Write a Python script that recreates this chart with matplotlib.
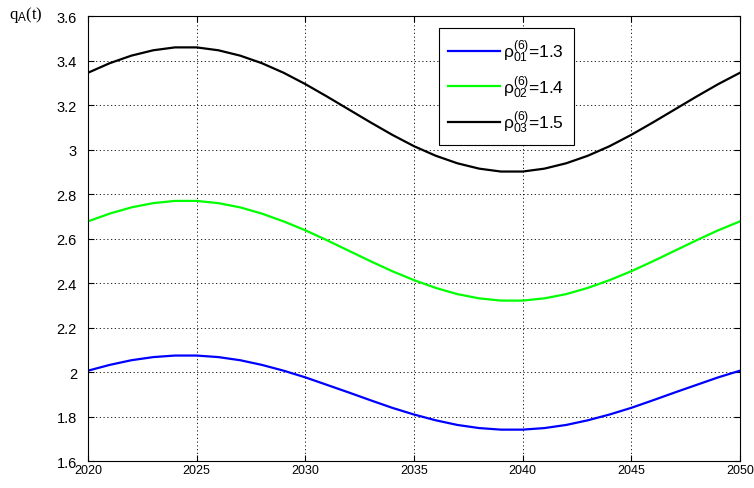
import matplotlib
matplotlib.use("Agg")
import matplotlib.pyplot as plt

plt.rcParams["font.family"] = ["Liberation Sans", "DejaVu Sans"]
plt.rcParams["mathtext.fontset"] = "custom"
plt.rcParams["mathtext.rm"] = "Liberation Sans"
plt.rcParams["mathtext.it"] = "Liberation Sans"

years = list(range(2020, 2051))

q_rho13 = [2.006, 2.032, 2.053, 2.067, 2.074, 2.074, 2.067, 2.053, 2.032, 2.006,
           1.976, 1.942, 1.908, 1.873, 1.839, 1.809, 1.783, 1.762, 1.748, 1.741,
           1.741, 1.748, 1.762, 1.783, 1.809, 1.839, 1.873, 1.908, 1.942, 1.976, 2.006]
q_rho14 = [2.677, 2.712, 2.740, 2.759, 2.769, 2.769, 2.759, 2.740, 2.712, 2.677,
           2.637, 2.592, 2.545, 2.498, 2.453, 2.413, 2.378, 2.350, 2.331, 2.321,
           2.321, 2.331, 2.350, 2.378, 2.413, 2.453, 2.498, 2.545, 2.592, 2.637, 2.677]
q_rho15 = [3.345, 3.388, 3.422, 3.446, 3.459, 3.459, 3.446, 3.422, 3.388, 3.345,
           3.294, 3.238, 3.180, 3.122, 3.066, 3.015, 2.972, 2.938, 2.914, 2.901,
           2.901, 2.914, 2.938, 2.972, 3.015, 3.066, 3.122, 3.180, 3.238, 3.294, 3.345]

labels = [r"$\mathrm{\rho}^{(6)}_{01}$=1.3",
          r"$\mathrm{\rho}^{(6)}_{02}$=1.4",
          r"$\mathrm{\rho}^{(6)}_{03}$=1.5"]
colors = ["#0000ff", "#00ff00", "#000000"]

xticks = [2020, 2025, 2030, 2035, 2040, 2045, 2050]
yticks = [1.6, 1.8, 2.0, 2.2, 2.4, 2.6, 2.8, 3.0, 3.2, 3.4, 3.6]
ytick_labels = ["1.6", "1.8", "2", "2.2", "2.4", "2.6", "2.8", "3", "3.2", "3.4", "3.6"]

fig = plt.figure(figsize=(7.54, 4.89), dpi=100)
ax = fig.add_axes([0.1167, 0.0552, 0.8647, 0.91])

for series, c, lab in zip([q_rho13, q_rho14, q_rho15], colors, labels):
    ax.plot(years, series, color=c, linewidth=1.6, label=lab)

ax.set_xlim(2020, 2050)
ax.set_ylim(1.6, 3.6)
ax.set_xticks(xticks)
ax.set_yticks(yticks)
ax.set_yticklabels(ytick_labels)
ax.tick_params(direction="in", top=True, right=True, length=4)
ax.tick_params(axis="x", pad=2, labelsize=9)
ax.tick_params(axis="y", pad=8, labelsize=10.5)
ax.grid(True, color="black", linestyle=(0, (1.5, 3)), linewidth=0.6)
for s in ax.spines.values():
    s.set_linewidth(0.8)

leg = ax.legend(loc="upper left", bbox_to_anchor=(0.53, 0.985), fontsize=12.5,
                fancybox=False, framealpha=1, edgecolor="black",
                handlelength=3.0, borderpad=0.55, labelspacing=0.55, handletextpad=0.15,
                borderaxespad=0.3)
leg.get_frame().set_linewidth(0.8)

fig.text(0.012, 0.962, r"q$_\mathrm{A}$(t)", fontsize=12, family="Liberation Serif")

fig.savefig("out.png", dpi=100)
plt.close(fig)
